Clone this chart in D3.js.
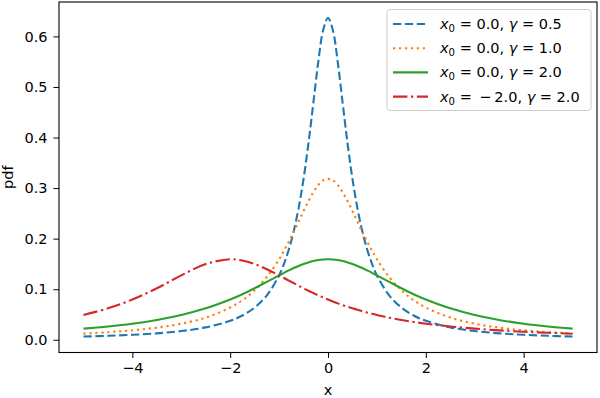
<!DOCTYPE html>
<html>
<head>
<meta charset="utf-8">
<script src="https://cdn.jsdelivr.net/npm/d3@7"></script>
<style>
  body { margin: 0; background: #fff; }
  svg { display: block; font-family: "DejaVu Sans", sans-serif; }
</style>
</head>
<body>
<svg id="chart" width="600" height="398"></svg>
<script>
// sample positions along x (denser near the peak)
const xs = [-5, -4.5, -4, -3.5, -3, -2.5, -2, -1.75, -1.5, -1.25, -1,
  -0.9, -0.8, -0.7, -0.6, -0.5, -0.4, -0.3, -0.2, -0.1, 0,
  0.1, 0.2, 0.3, 0.4, 0.5, 0.6, 0.7, 0.8, 0.9, 1,
  1.25, 1.5, 1.75, 2, 2.5, 3, 3.5, 4, 4.5, 5];

// x0 = 0, gamma = 0.5
const pdfA = [0.0063, 0.0078, 0.0098, 0.0127, 0.0172, 0.0245, 0.0374, 0.0480, 0.0637, 0.0878, 0.1273,
  0.1501, 0.1788, 0.2151, 0.2609, 0.3183, 0.3882, 0.4681, 0.5488, 0.6121, 0.6366,
  0.6121, 0.5488, 0.4681, 0.3882, 0.3183, 0.2609, 0.2151, 0.1788, 0.1501, 0.1273,
  0.0878, 0.0637, 0.0480, 0.0374, 0.0245, 0.0172, 0.0127, 0.0098, 0.0078, 0.0063];

// x0 = 0, gamma = 1
const pdfB = [0.0122, 0.0150, 0.0187, 0.0240, 0.0318, 0.0439, 0.0637, 0.0784, 0.0979, 0.1242, 0.1592,
  0.1759, 0.1941, 0.2136, 0.2341, 0.2546, 0.2744, 0.2920, 0.3061, 0.3152, 0.3183,
  0.3152, 0.3061, 0.2920, 0.2744, 0.2546, 0.2341, 0.2136, 0.1941, 0.1759, 0.1592,
  0.1242, 0.0979, 0.0784, 0.0637, 0.0439, 0.0318, 0.0240, 0.0187, 0.0150, 0.0122];

// x0 = 0, gamma = 2
const pdfC = [0.0220, 0.0263, 0.0318, 0.0392, 0.0490, 0.0621, 0.0796, 0.0901, 0.1019, 0.1145, 0.1273,
  0.1324, 0.1372, 0.1418, 0.1460, 0.1498, 0.1530, 0.1557, 0.1576, 0.1588, 0.1592,
  0.1588, 0.1576, 0.1557, 0.1530, 0.1498, 0.1460, 0.1418, 0.1372, 0.1324, 0.1273,
  0.1145, 0.1019, 0.0901, 0.0796, 0.0621, 0.0490, 0.0392, 0.0318, 0.0263, 0.0220];

// x0 = -2, gamma = 2
const pdfD = [0.0490, 0.0621, 0.0796, 0.1019, 0.1273, 0.1498, 0.1592, 0.1567, 0.1498, 0.1395, 0.1273,
  0.1222, 0.1170, 0.1119, 0.1068, 0.1019, 0.0970, 0.0924, 0.0879, 0.0837, 0.0796,
  0.0757, 0.0720, 0.0685, 0.0652, 0.0621, 0.0592, 0.0564, 0.0538, 0.0513, 0.0490,
  0.0437, 0.0392, 0.0352, 0.0318, 0.0263, 0.0220, 0.0186, 0.0159, 0.0138, 0.0120];

const labels = [["0.0", "0.5"], ["0.0", "1.0"], ["0.0", "2.0"], ["\u2009\u2212\u20092.0", "2.0"]];
const xTicks = [-4, -2, 0, 2, 4];
const yTicks = [0.0, 0.1, 0.2, 0.3, 0.4, 0.5, 0.6];

const colors = ["#1f77b4", "#ff7f0e", "#2ca02c", "#d62728"];
const dashes = ["8.3,3.6", "2.25,3.7", null, "14.4,3.6,2.25,3.6"];
const series = [pdfA, pdfB, pdfC, pdfD];

const mLeft = 59, mRight = 597, mTop = 2, mBottom = 352.5;
const fs = 14.5;

const svg = d3.select("#chart");
const x = d3.scaleLinear().domain([-5.5, 5.5]).range([mLeft, mRight]);
const y = d3.scaleLinear().domain([-0.0252, 0.6681]).range([mBottom, mTop]);

const line = d3.line()
  .x((d, i) => x(xs[i]))
  .y(d => y(d))
  .curve(d3.curveCatmullRom.alpha(0.5));

const plot = svg.append("g");
series.forEach(function(s, k) {
  plot.append("path")
    .attr("d", line(s))
    .attr("fill", "none")
    .attr("stroke", colors[k])
    .attr("stroke-width", 2.1)
    .attr("stroke-dasharray", dashes[k]);
});

// axes
const xAxis = svg.append("g")
  .attr("transform", "translate(0," + mBottom + ")")
  .call(d3.axisBottom(x).tickValues(xTicks).tickSize(5.5).tickPadding(5)
    .tickFormat(d => d3.format("d")(d).replace("-", "\u2212")));
const yAxis = svg.append("g")
  .attr("transform", "translate(" + mLeft + ",0)")
  .call(d3.axisLeft(y).tickValues(yTicks).tickSize(5.5).tickPadding(6)
    .tickFormat(d3.format(".1f")));
[xAxis, yAxis].forEach(function(a) {
  a.select(".domain").remove();
  a.selectAll("line").attr("stroke", "#000").attr("stroke-width", 1);
  a.selectAll("text").attr("fill", "#000").style("font-size", fs + "px")
    .style("font-family", "DejaVu Sans");
});

// frame
svg.append("rect")
  .attr("x", mLeft).attr("y", mTop)
  .attr("width", mRight - mLeft).attr("height", mBottom - mTop)
  .attr("fill", "none").attr("stroke", "#000").attr("stroke-width", 1.1);

svg.append("text")
  .attr("x", (mLeft + mRight) / 2).attr("y", 395)
  .attr("text-anchor", "middle").style("font-size", fs + "px")
  .text("x");
svg.append("text")
  .attr("transform", "translate(13," + ((mTop + mBottom) / 2) + ") rotate(-90)")
  .attr("text-anchor", "middle").style("font-size", fs + "px")
  .text("pdf");

// legend
const lg = svg.append("g");
lg.append("rect")
  .attr("x", 387).attr("y", 9.5).attr("width", 204).attr("height", 101)
  .attr("rx", 3).attr("fill", "#fff").attr("fill-opacity", 0.8)
  .attr("stroke", "#ccc").attr("stroke-width", 1);
labels.forEach(function(lb, k) {
  const cy = 24 + k * 24.2;
  lg.append("line")
    .attr("x1", 393).attr("x2", 428).attr("y1", cy).attr("y2", cy)
    .attr("stroke", colors[k]).attr("stroke-width", 2.1)
    .attr("stroke-dasharray", dashes[k]);
  const t = lg.append("text")
    .attr("x", 440).attr("y", cy + 5)
    .style("font-size", fs + "px");
  t.append("tspan").style("font-style", "italic").text("x");
  t.append("tspan").attr("dy", 3).style("font-size", (fs * 0.7) + "px").text("0");
  t.append("tspan").attr("dy", -3).text(" = " + lb[0] + ", ");
  t.append("tspan").style("font-style", "italic").text("\u03b3");
  t.append("tspan").text(" = " + lb[1]);
});
</script>
</body>
</html>
